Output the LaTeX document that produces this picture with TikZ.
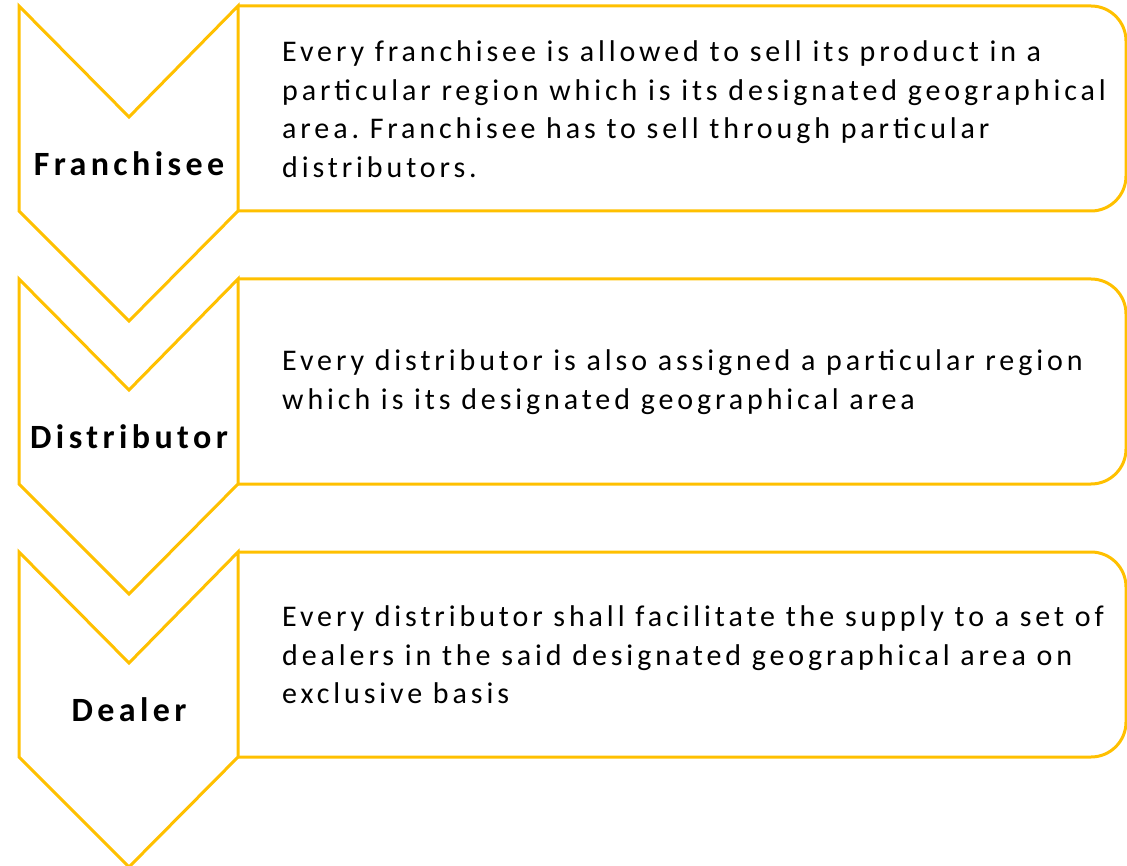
\documentclass[tikz,border=0pt]{standalone}
\usepackage{fontspec}
\setmainfont{Carlito}[LetterSpace=13]
\usepackage{xcolor}
\definecolor{gold}{HTML}{FFC000}
\frenchspacing

\begin{document}
\begin{tikzpicture}[x=1pt,y=-1pt]

        \tikzset{
            outline/.style={draw=gold, line width=3pt},
            desctext/.style={anchor=west, align=left, inner sep=0pt, font=\fontsize{30}{38.5}\selectfont},
            chevlabel/.style={inner sep=0pt, font=\fontsize{34}{38}\selectfont\bfseries}
        }
        \useasboundingbox (0,0) rectangle (1127,866);

        \foreach \i in {0,1,2}{
            \pgfmathsetmacro{\t}{6+273*\i}
            % chevron
            \draw[outline] (19,\t) -- (129,{\t+111}) -- (238,\t) -- (238,{\t+205})
                -- (129,{\t+315}) -- (19,{\t+205}) -- cycle;
            % box with round right side
            \draw[outline] (238,\t) -- (1091,\t) arc(-90:0:35) -- (1126,{\t+170})
                arc(0:90:35) -- (238,{\t+205});
        }

        \node[chevlabel] (l1) at (129,164) {Franchisee};
        \node[chevlabel] (l2) at (129,437) {Distributor};
        \node[chevlabel] (l3) at (129,710) {Dealer};

        \node[desctext] (d1) at (282,109) {Every franchisee is allowed to sell its product in a\\
            particular region which is its designated geographical\\
            area. Franchisee has to sell through particular\\
            distributors.};
        \node[desctext] (d2) at (282,382) {Every distributor is also assigned a particular region\\
            which is its designated geographical area};
        \node[desctext] (d3) at (282,655) {Every distributor shall facilitate the supply to a set of\\
            dealers in the said designated geographical area on\\
            exclusive basis};

\end{tikzpicture}
\end{document}
